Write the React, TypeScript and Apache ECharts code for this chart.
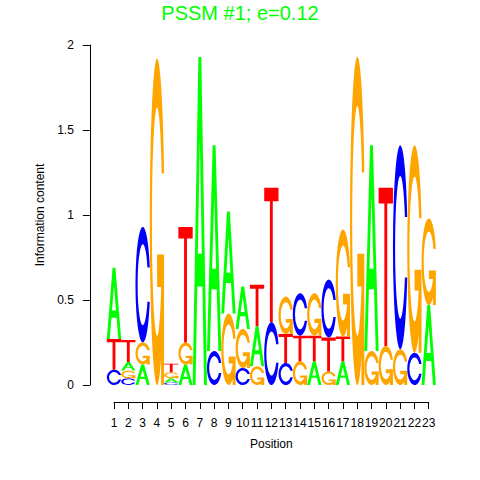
import React, { useEffect, useRef } from 'react';
import * as echarts from 'echarts';

const titleText = 'PSSM #1; e=0.12';
const positions = [1, 2, 3, 4, 5, 6, 7, 8, 9, 10, 11, 12, 13, 14, 15, 16, 17, 18, 19, 20, 21, 22, 23];
const letters = ['A', 'C', 'G', 'T'];
const heightA = [0.42, 0.05, 0.12, 0, 0.025, 0.12, 1.93, 1.21, 0.6, 0.25, 0.235, 0, 0, 0, 0.14, 0, 0.14, 0, 1.21, 0, 0, 0, 0.47];
const heightC = [0.09, 0.04, 0.68, 0, 0.015, 0, 0, 0.2, 0, 0.1, 0, 0.37, 0.13, 0.25, 0, 0.34, 0, 0, 0, 0, 1.2, 0.19, 0];
const heightG = [0, 0.045, 0.13, 1.92, 0.035, 0.13, 0, 0, 0.42, 0.23, 0.11, 0, 0.22, 0.14, 0.25, 0.08, 0.63, 1.93, 0.2, 0.23, 0.21, 1.22, 0.51];
const heightT = [0.18, 0.13, 0, 0, 0.05, 0.68, 0, 0, 0, 0, 0.245, 0.79, 0.17, 0.15, 0.15, 0.2, 0.145, 0, 0, 0.93, 0, 0, 0];

const COLORS = ['#00FF00', '#0000FF', '#FFA500', '#FF0000'];
const RING = 'M97.8 64.8 A50 50 0 1 1 97.8 35.2 L81.7 35.2 A35 35 0 1 0 81.7 64.8 Z';
const PATHS = [
  'M0 100 L40 0 L60 0 L100 100 L80 100 L68 70 L32 70 L20 100 Z M36 60 L64 60 L50 25 Z',
  RING,
  RING + ' M97.8 60 L97.8 100 L77.8 100 L77.8 70 L50 70 L50 60 Z',
  'M0 0 L100 0 L100 10 L60 10 L60 100 L40 100 L40 10 L0 10 Z',
];

const FONT = 'Liberation Sans, Arial, Helvetica, sans-serif';

function buildStacks() {
  const all = [heightA, heightC, heightG, heightT];
  const out: number[][] = [];
  positions.forEach((p, i) => {
    const items = letters
      .map((_, li) => ({ li, h: all[li][i] }))
      .filter((d) => d.h > 0)
      .sort((a, b) => a.h - b.h);
    let y = 0;
    items.forEach((d) => {
      out.push([p, y, y + d.h, d.li]);
      y += d.h;
    });
  });
  return out;
}

export default function App() {
  const ref = useRef<HTMLDivElement>(null);
  useEffect(() => {
    if (!ref.current) return;
    const chart = echarts.init(ref.current, null, { renderer: 'svg' });
    const data = buildStacks();
    chart.setOption({
      animation: false,
      backgroundColor: '#ffffff',
      title: {
        text: titleText,
        left: 'center',
        top: -2,
        textStyle: { color: '#00FF00', fontSize: 20, fontWeight: 'normal', fontFamily: FONT },
      },
      grid: [
        { left: 106.85, right: 44.15, top: 45, bottom: 95, outerBoundsMode: 'none' },
        { left: 114, right: 51.3, top: 45, bottom: 95, outerBoundsMode: 'none' },
      ],
      xAxis: [
        { type: 'value', gridIndex: 0, min: 0.5, max: 23.5, show: false },
        {
          type: 'value',
          gridIndex: 1,
          position: 'bottom',
          min: 1,
          max: 23,
          interval: 1,
          offset: 17,
          name: 'Position',
          nameLocation: 'middle',
          nameGap: 36,
          nameTextStyle: { color: '#000', fontSize: 12, fontFamily: FONT },
          axisLine: { show: true, onZero: false, lineStyle: { color: '#000', width: 1 } },
          axisTick: { show: true, length: 7, lineStyle: { color: '#000', width: 1 } },
          axisLabel: { margin: 15, color: '#000', fontSize: 12, fontFamily: FONT },
          splitLine: { show: false },
        },
      ],
      yAxis: [
        {
          type: 'value',
          gridIndex: 0,
          min: 0,
          max: 2,
          interval: 0.5,
          offset: 17,
          name: 'Information content',
          nameLocation: 'middle',
          nameGap: 43,
          nameTextStyle: { color: '#000', fontSize: 12, fontFamily: FONT },
          axisLine: { show: true, onZero: false, lineStyle: { color: '#000', width: 1 } },
          axisTick: { show: true, length: 7, lineStyle: { color: '#000', width: 1 } },
          axisLabel: { margin: 16, color: '#000', fontSize: 12, fontFamily: FONT },
          splitLine: { show: false },
        },
        {
          type: 'value',
          gridIndex: 1,
          min: 0,
          max: 2,
          axisLine: { show: false },
          axisTick: { show: false },
          axisLabel: { show: false },
          splitLine: { show: false },
        },
      ],
      series: [
        {
          type: 'custom',
          xAxisIndex: 0,
          yAxisIndex: 0,
          clip: false,
          data,
          renderItem: (_params: any, api: any) => {
            const pos = api.value(0);
            const y0 = api.value(1);
            const y1 = api.value(2);
            const li = api.value(3);
            const tl = api.coord([pos - 0.5, y1]);
            const br = api.coord([pos + 0.5, y0]);
            return {
              type: 'path',
              shape: {
                pathData: PATHS[li],
                x: tl[0],
                y: tl[1],
                width: br[0] - tl[0],
                height: br[1] - tl[1],
                layout: 'cover',
              },
              style: { fill: COLORS[li] },
            };
          },
        },
      ],
    });
    return () => chart.dispose();
  }, []);
  return (
    <div
      ref={ref}
      style={{ position: 'absolute', left: 0, top: 0, width: 480, height: 480 }}
    />
  );
}
